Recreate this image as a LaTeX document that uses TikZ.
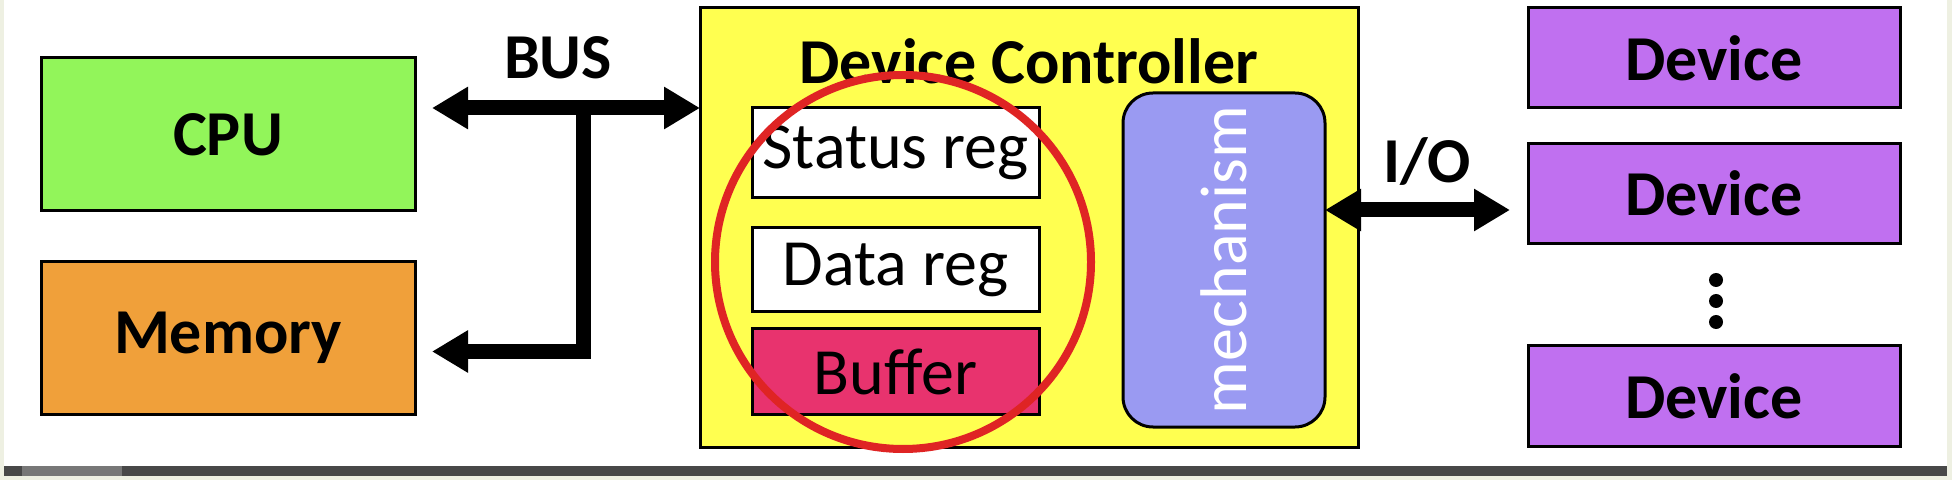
\documentclass[tikz,border=0pt]{standalone}
\usepackage{fontspec}
\setmainfont{Carlito}
\usepackage{xcolor}
\usepackage{tikz}
\usetikzlibrary{arrows.meta,calc}

\definecolor{cpugreen}{HTML}{92F55A}
\definecolor{memorange}{HTML}{F0A03A}
\definecolor{ctrlyellow}{HTML}{FFFF50}
\definecolor{bufferpink}{HTML}{E8336E}
\definecolor{mechblue}{HTML}{9A9AF2}
\definecolor{devpurple}{HTML}{C070F0}
\definecolor{ringred}{HTML}{DF2424}
\definecolor{slidecream}{HTML}{EEF0E2}
\definecolor{bardark}{HTML}{484848}
\definecolor{barlight}{HTML}{777777}

\begin{document}
\begin{tikzpicture}[
  x=0.5pt, y=-0.5pt,
  >={Triangle[length=18pt,width=20pt]},
  box/.style={rectangle, draw=black, line width=1.5pt, inner sep=0pt, outer sep=0pt,
              font=\fontsize{32}{38}\selectfont\bfseries, align=center},
  reg/.style={box, fill=white, minimum width=143.5pt, font=\fontsize{33}{38}\selectfont},
  device/.style={box, fill=devpurple, minimum width=186pt, minimum height=50pt},
  busline/.style={line width=7.5pt, line join=miter},
  label/.style={font=\fontsize{32}{38}\selectfont\bfseries, inner sep=0pt}
]
% Slide background
\fill[slidecream] (0,0) rectangle (1952,480);
\fill[white] (4,0) rectangle (1947,466);
\fill[bardark] (4,466) rectangle (1947,476);
\fill[barlight] (22,466) rectangle (122,476);
\useasboundingbox (0,0) rectangle (1952,480);

% Host side
\node[box, fill=cpugreen, minimum width=187pt, minimum height=76.5pt] (cpu) at (228,134.5) {CPU};
\node[box, fill=memorange, minimum width=187pt, minimum height=76.5pt] (memory) at (228,338) {Memory};

% Controller
\node[box, fill=ctrlyellow, minimum width=329pt, minimum height=219.5pt] (ctrl) at (1029,227.5) {};
\node[label] (title) at (1029,61) {Device Controller};
\node[reg, minimum height=45pt] (status) at (895.5,153) {Status reg};
\node[reg, minimum height=42pt] (data) at (895.5,270) {Data reg};
\node[reg, fill=bufferpink, minimum height=42.5pt] (buffer) at (895.5,371.5) {Buffer};
\node[box, fill=mechblue, rounded corners=15pt, rotate=90, minimum width=167pt, minimum height=101pt,
      text=white, font=\fontsize{33}{38}\selectfont] (mech) at (1224,260) {mechanism};

% Devices
\node[device] (dev1) at (1714,58) {Device};
\node[device] (dev2) at (1714,193.5) {Device};
\node[device] (dev3) at (1714,396) {Device};
\foreach \y in {280,301,322}
  \fill (1716,\y) circle [radius=3.5pt];

% Bus
\coordinate (cpuport) at ($(cpu.north east)+(17,50)$);
\coordinate (memport) at ($(memory.north east)+(17,90)$);
\coordinate (busjoint) at (583,108);
\draw[busline, <->] (cpuport) -- (ctrl.west |- cpuport);
\draw[busline, ->] (busjoint) |- (memport);
\node[label] (buslabel) at (558,58) {BUS};

% I/O
\coordinate (ioport) at ($(dev2.west)+(-18,16.5)$);
\draw[busline, <->] (mech.south |- ioport) -- (ioport);
\node[label] (iolabel) at (1427,162) {I/O};

% Highlight
\draw[ringred, line width=4pt] (903,262) ellipse [x radius=94pt, y radius=93.5pt];
\end{tikzpicture}
\end{document}
